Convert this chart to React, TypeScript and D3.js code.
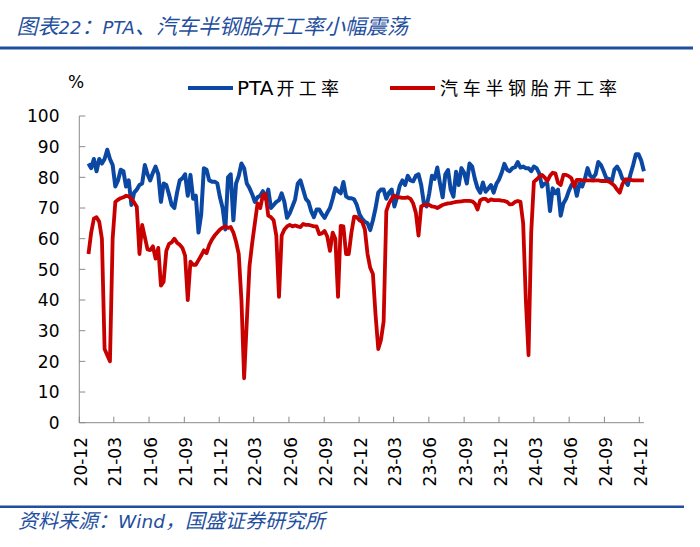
import React from "react";
import * as d3 from "d3";

const weekStart = "2020-12-25";

const ptaRate = [
  84.5, 83, 86, 82, 86, 84.5, 86, 89, 86, 84,
  77, 79, 82.5, 82, 77, 79, 71, 75, 76, 77.5,
  78, 84, 81, 79, 81.5, 83.5, 81, 72, 78, 77.5,
  74.5, 71, 70, 75, 79, 79.7, 81, 74, 80.8, 73,
  74, 62, 68, 83, 82.5, 79, 78.6, 78.6, 78, 73.5,
  70, 63, 80, 81, 66, 78, 80.5, 84.5, 83, 78,
  76.5, 74.5, 72, 73.5, 74, 75.5, 73, 76, 70, 71,
  72, 72.5, 74.8, 72, 66.8, 68.3, 70.5, 72.8, 78, 79,
  76, 73, 72, 69, 67, 69.5, 69.5, 68, 66.8, 68.5,
  70, 73, 76.5, 75.5, 74.8, 78.5, 73.8, 73.2, 73.2, 72.8,
  71, 68, 66.5, 65.5, 65, 62.8, 66, 70, 75, 76,
  76, 73, 75, 76, 70.5, 73.5, 77.3, 79, 77.5, 80.5,
  79, 78.7, 80.5, 81, 77.5, 71.5, 70.5, 74.8, 80.5, 79.5,
  83.2, 78, 73.5, 81, 82.4, 76, 73.7, 81.8, 77.5, 83,
  81.5, 78, 84.5, 83.5, 79.5, 76.5, 75, 78.3, 75.3, 76.4,
  77.5, 75, 77.8, 79.3, 81.5, 84.4, 82.5, 82, 83, 83.3,
  85, 83.2, 83.5, 83, 83, 82, 83.5, 83, 81.3, 77,
  78, 78, 69, 76.4, 74.8, 76, 67.5, 71.5, 73, 75.5,
  77.5, 78.3, 74, 78, 77, 79.5, 83, 80.5, 79.8, 81,
  85, 84, 82, 79.7, 79.5, 78.5, 82.5, 83.5, 82, 79.5,
  79, 77.5, 81, 84, 87.5, 87.5, 85.5, 82,
];

const tireRate = [
  55, 62, 66.5, 67, 65.5, 60, 24, 22, 20, 60,
  72, 72.7, 73.2, 73.5, 74, 73.8, 73, 71.8, 70.4, 55,
  64.5, 60.5, 56.5, 56.3, 57.5, 53.5, 57, 44.7, 46, 56,
  58.3, 58.8, 60, 58.7, 58, 57, 54.5, 40, 52.5, 51.5,
  51.5, 53, 54.5, 56.2, 55.3, 58, 59.7, 61, 62, 63,
  63.6, 64, 63.5, 63.8, 62, 59, 55, 40, 14.5, 33,
  51, 58.5, 65, 71.5, 70, 74.2, 74.5, 67.5, 67, 66,
  61, 41, 61, 63, 64, 64.5, 64, 64.3, 64, 63.8,
  64.8, 64.5, 64.5, 64.3, 64, 64, 61.5, 61.7, 62.5, 60.7,
  56, 62, 60, 41, 64.2, 64, 55, 55, 62, 67.2,
  67, 66, 65.5, 63, 55, 50.5, 48.5, 35, 24, 27,
  33, 69, 71.5, 73, 74, 73.5, 73.5, 73.3, 73.3, 73.5,
  73, 71.5, 68.5, 61, 70.5, 71, 71, 71, 70.5, 70.4,
  70, 70.5, 71, 71.3, 71.5, 71.6, 71.8, 72, 72.1, 72.2,
  72.3, 72.3, 72.3, 72.2, 71.5, 69.5, 72.5, 73, 73, 72.2,
  72.8, 72.6, 72.6, 72.6, 72.4, 72.3, 72, 71.2, 71.3, 72,
  72.3, 72, 65, 40, 22, 62, 78.5, 79.3, 80.2, 80.8,
  80, 78.8, 80.5, 81.5, 81.3, 78.2, 77.5, 80.8, 80.8, 80.4,
  79.7, 77, 79.2, 79.2, 79, 79, 79, 79, 78.9, 79,
  79, 78.8, 78.8, 78.8, 78.6, 78, 77.3, 76, 75, 77.8,
  79.3, 79.3, 79.2, 79, 79, 79, 79, 79,
];

const xTickLabels = [
  "20-12", "21-03", "21-06", "21-09", "21-12", "22-03", "22-06", "22-09", "22-12",
  "23-03", "23-06", "23-09", "23-12", "24-03", "24-06", "24-09", "24-12",
];
const yTicks = [0, 10, 20, 30, 40, 50, 60, 70, 80, 90, 100];

const seriesLatin = ["PTA", ""];
const seriesCjk = ["开工率", "汽车半钢胎开工率"];
const seriesColors = ["#0b48a4", "#c80000"];

const titleParts = ["图表", "22", "：", "PTA", "、汽车半钢胎开工率小幅震荡"];
const sourceParts = ["资料来源：", "Wind", "，国盛证券研究所"];
const unitLabel = "%";

const LATIN = "'DejaVu Sans', Verdana, sans-serif";
const CJK = "'Noto Sans CJK SC', sans-serif";

export default function App() {
  const W = 700;
  const H = 547;
  const parseDay = d3.timeParse("%Y-%m-%d");
  const parseTick = d3.timeParse("%y-%m");
  const start = parseDay(weekStart) as Date;
  const dates = ptaRate.map((_, i) => d3.timeDay.offset(start, 7 * i));
  const tickDates = xTickLabels.map((s) => parseTick(s) as Date);

  const x = d3
    .scaleTime()
    .domain([tickDates[0], tickDates[tickDates.length - 1]])
    .range([79.3, 639.3]);
  const y = d3.scaleLinear().domain([0, 100]).range([422.7, 116]);

  const line = d3
    .line<number>()
    .x((_, i) => x(dates[i]))
    .y((d) => y(d))
    .curve(d3.curveLinear);

  const axisColor = "#8a8a8a";
  const blueTitle = "#1f4f9e";
  const x0 = x(tickDates[0]);
  const xEnd = x(dates[dates.length - 1]);

  const legendItems = [
    { lx: 188, tx: 237, ls: 4.3 },
    { lx: 390, tx: 440, ls: 4.7 },
  ];

  return (
    <svg
      width={W}
      height={H}
      style={{ position: "absolute", left: 0, top: 0, background: "#fff" }}
    >
      <rect x={0} y={0} width={W} height={H} fill="#fff" />
      {/* Title */}
      <text x={16.5} y={34} fill={blueTitle} fontStyle="italic">
        <tspan fontFamily={CJK} fontSize={21}>{titleParts[0]}</tspan>
        <tspan fontFamily={LATIN} fontSize={18}>{titleParts[1]}</tspan>
        <tspan fontFamily={CJK} fontSize={21}>{titleParts[2]}</tspan>
        <tspan fontFamily={LATIN} fontSize={18}>{titleParts[3]}</tspan>
        <tspan fontFamily={CJK} fontSize={21}>{titleParts[4]}</tspan>
      </text>
      <line x1={0} x2={693} y1={48} y2={48} stroke={blueTitle} strokeWidth={2.8} />

      {/* unit */}
      <text x={68} y={88} fontFamily={LATIN} fontSize={17} fill="#000">
        {unitLabel}
      </text>

      {/* Legend */}
      {legendItems.map((it, k) => (
        <g key={k}>
          <line
            x1={it.lx}
            x2={it.lx + 45}
            y1={88}
            y2={88}
            stroke={seriesColors[k]}
            strokeWidth={4}
          />
          <text x={it.tx} y={94.5} fill="#000">
            {seriesLatin[k] && (
              <tspan fontFamily={LATIN} fontSize={20}>{seriesLatin[k]}</tspan>
            )}
            <tspan fontFamily={CJK} fontSize={18} letterSpacing={it.ls} dx={seriesLatin[k] ? 3 : 0}>
              {seriesCjk[k]}
            </tspan>
          </text>
        </g>
      ))}

      {/* Axes */}
      <line x1={x0} x2={x0} y1={y(100)} y2={y(0)} stroke={axisColor} strokeWidth={1} />
      <line x1={x0} x2={xEnd} y1={y(0)} y2={y(0)} stroke={axisColor} strokeWidth={1} />
      {yTicks.map((v) => (
        <g key={v}>
          <line x1={x0} x2={x0 + 6} y1={y(v)} y2={y(v)} stroke={axisColor} strokeWidth={1} />
          <text
            x={59.5}
            y={y(v) + 6.2}
            textAnchor="end"
            fontFamily={LATIN}
            fontSize={17}
            fill="#000"
          >
            {v}
          </text>
        </g>
      ))}
      {tickDates.map((d, i) => (
        <g key={i}>
          <line x1={x(d)} x2={x(d)} y1={y(0)} y2={y(0) - 6} stroke={axisColor} strokeWidth={1} />
          <text
            transform={`translate(${x(d) + 1.5},437) rotate(-90)`}
            textAnchor="end"
            dy="0.36em"
            fontFamily={LATIN}
            fontSize={17}
            fill="#000"
          >
            {xTickLabels[i]}
          </text>
        </g>
      ))}

      {/* Series */}
      <path
        d={line(ptaRate) || ""}
        fill="none"
        stroke={seriesColors[0]}
        strokeWidth={4}
        strokeLinejoin="round"
      />
      <path
        d={line(tireRate) || ""}
        fill="none"
        stroke={seriesColors[1]}
        strokeWidth={3.8}
        strokeLinejoin="round"
      />

      {/* Footer */}
      <line x1={0} x2={684} y1={506.7} y2={506.7} stroke={blueTitle} strokeWidth={2.4} />
      <text x={18} y={528} fill={blueTitle} fontStyle="italic">
        <tspan fontFamily={CJK} fontSize={20}>{sourceParts[0]}</tspan>
        <tspan fontFamily={LATIN} fontSize={18.5}>{sourceParts[1]}</tspan>
        <tspan fontFamily={CJK} fontSize={20}>{sourceParts[2]}</tspan>
      </text>
    </svg>
  );
}
